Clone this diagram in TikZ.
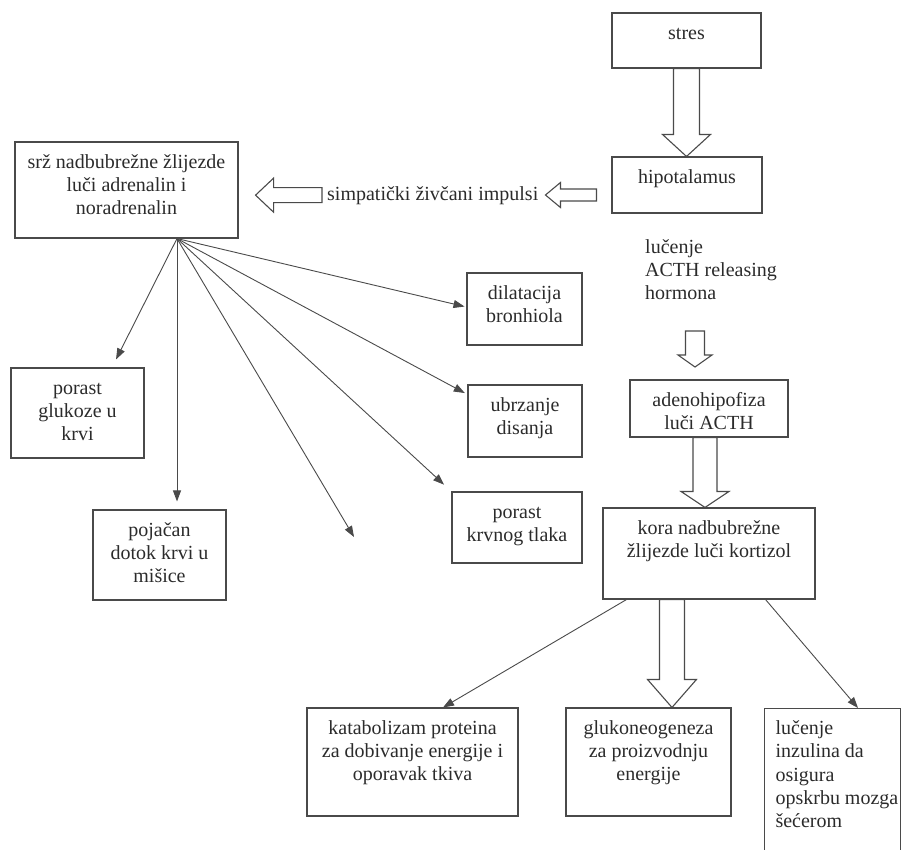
\documentclass[tikz,border=0pt]{standalone}
\usepackage{fontspec}
\setmainfont{Liberation Serif}
\usetikzlibrary{calc, arrows.meta}

\definecolor{ink}{HTML}{2B2B2B}
\definecolor{edge}{HTML}{4A4A4A}

% text placed at the top of a box of given width and height (in pt)
\newcommand{\boxtext}[3]{\parbox[c][#2pt][t]{#1pt}{\centering\rule{0pt}{26pt}#3}}

% hollow arrows: start, tip, shaft half width, head half width, head length
\newcommand{\fatdown}[5]{%
  \draw[fat] let \p1=(#1), \p2=(#2) in
    (\x1-#3pt,\y1) -- (\x1-#3pt,\y2+#5pt) -- (\x1-#4pt,\y2+#5pt) -- (\x1,\y2)
    -- (\x1+#4pt,\y2+#5pt) -- (\x1+#3pt,\y2+#5pt) -- (\x1+#3pt,\y1) -- cycle;}
\newcommand{\fatleft}[5]{%
  \draw[fat] let \p1=(#1), \p2=(#2) in
    (\x1,\y1+#3pt) -- (\x2+#5pt,\y1+#3pt) -- (\x2+#5pt,\y1+#4pt) -- (\x2,\y1)
    -- (\x2+#5pt,\y1-#4pt) -- (\x2+#5pt,\y1-#3pt) -- (\x1,\y1-#3pt) -- cycle;}

\tikzset{
  box/.style={draw=edge, line width=1.1pt, inner sep=0pt, text=ink,
    font=\fontsize{20}{23.3}\selectfont},
  plaintext/.style={inner sep=0pt, text=ink, font=\fontsize{20}{23.3}\selectfont},
  thinarrow/.style={draw=edge, line width=0.9pt, -{Triangle[length=11pt,width=8pt]}},
  fat/.style={draw=edge, line width=1.1pt, line join=miter}
}

\begin{document}
\begin{tikzpicture}[x=1pt, y=-1pt]
    \useasboundingbox (0,0) rectangle (901,849);
    \clip (0,0) rectangle (901,849);

    % Hypothalamus chain
    \node[box] (stres) at (686.5,40.5) {\boxtext{149}{55}{stres}};
    \node[box] (hipot) at (687,185) {\boxtext{150}{56}{hipotalamus}};
    \node[plaintext, anchor=north west, align=left] (acth) at (645,239) {lučenje\\ACTH releasing\\hormona};
    \node[box] (adeno) at (709,408.5) {\boxtext{158}{57}{adenohipofiza\\luči ACTH}};
    \node[box] (kora) at (709,553.5) {\boxtext{212}{91}{kora nadbubrežne\\žlijezde luči kortizol}};

    % Adrenal medulla and its effects
    \node[box] (srz) at (126.5,190) {\boxtext{223}{96}{srž nadbubrežne žlijezde\\luči adrenalin i\\noradrenalin}};
    \node[plaintext, anchor=base west] (simp) at (327,200) {simpatički živčani impulsi};
    \node[box] (gluk) at (77.5,413) {\boxtext{133}{90}{porast\\glukoze u\\krvi}};
    \node[box] (poj) at (159.5,555) {\boxtext{133}{90}{pojačan\\dotok krvi u\\mišice}};
    \node[box] (dil) at (524.5,309) {\boxtext{115}{72}{dilatacija\\bronhiola}};
    \node[box] (ubr) at (525,421) {\boxtext{114}{72}{ubrzanje\\disanja}};
    \node[box] (krv) at (517,527.5) {\boxtext{130}{71}{porast\\krvnog tlaka}};

    % Cortisol effects
    \node[box] (kat) at (412.5,762) {\boxtext{211}{108}{katabolizam proteina\\za dobivanje energije i\\oporavak tkiva}};
    \node[box] (glun) at (648.5,762) {\boxtext{165}{108}{glukoneogeneza\\za proizvodnju\\energije}};
    \node[box, anchor=north west] (luc) at (764,708) {\parbox[c][150pt][t]{136pt}{\raggedright\leftskip=11pt\rule{0pt}{26pt}lučenje\\inzulina da\\osigura\\opskrbu mozga\\šećerom}};

    % Hollow arrows
    \fatdown{stres.south}{hipot.north}{13}{24}{22}
    \coordinate (acthtop) at (695,331);
    \coordinate (acthtip) at (695,367);
    \fatdown{acthtop}{acthtip}{9.5}{17}{12}
    \fatdown{$(adeno.south)+(-4,0)$}{kora.north}{12}{24}{16}
    \fatdown{$(kora.south)+(-37,0)$}{glun.north}{12.5}{24.5}{28}
    \fatleft{$(hipot.west)+(-15,10)$}{$(simp.east)+(7,0)$}{6}{12.5}{15}
    \fatleft{$(simp.west)+(-5,0)$}{$(srz.east)+(17,0)$}{7.5}{17}{18}

    % Arrows from the medulla
    \coordinate (fan) at ($(srz.south)+(50.5,0)$);
    \coordinate (loose) at (354,537);
    \draw[thinarrow, shorten >=9pt] (fan) -- ($(gluk.north)+(34.5,0)$);
    \draw[thinarrow, shorten >=8pt] (fan) -- (fan |- poj.north);
    \draw[thinarrow] (fan) -- (loose);
    \draw[thinarrow, shorten >=2pt] (fan) -- ($(dil.west)+(0,-2)$);
    \draw[thinarrow, shorten >=3pt] (fan) -- ($(ubr.north west)+(0,10)$);
    \draw[thinarrow, shorten >=10pt] (fan) -- (krv.north west);

    % Arrows from the cortex
    \draw[thinarrow] ($(kora.south west)+(24,0)$) -- ($(kat.north)+(30.5,0)$);
    \draw[thinarrow] ($(kora.south east)+(-50,0)$) -- ($(luc.north west)+(94,0)$);

\end{tikzpicture}
\end{document}
